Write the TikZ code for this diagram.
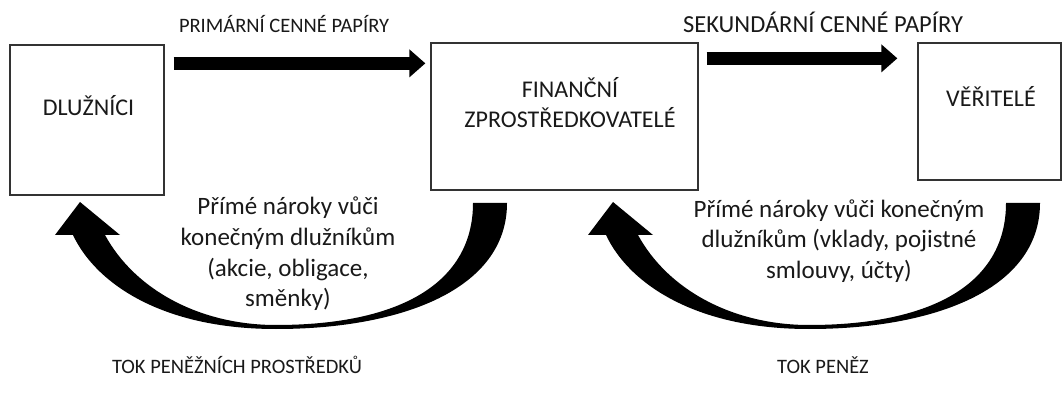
\documentclass[tikz,border=0pt]{standalone}
\usepackage{fontspec}
\setmainfont{Carlito}
\usetikzlibrary{arrows.meta,positioning,calc}

\tikzset{
  box/.style={draw=black!80,line width=1.3pt,rectangle,inner sep=0pt},
  lbl/.style={text=black!90,font=\fontsize{20.5}{30.5}\selectfont,align=center,inner sep=0pt},
  boxlbl/.style={lbl,font=\fontsize{24}{30}\selectfont},
  claimlbl/.style={lbl,font=\fontsize{25}{30.7}\selectfont},
  flow/.style={line width=13pt,-{Triangle[length=16pt,width=27pt]}},
  claim/.style={fill=black,draw=none},
}

\begin{document}
\begin{tikzpicture}[x=1pt,y=-1pt]
\useasboundingbox (0,0) rectangle (1062,403);

% boxes
\node[box,minimum width=154pt,minimum height=150pt] (dluz) at (87,120) {};
\node[box,minimum width=267pt,minimum height=147pt] (fin) at (564.5,116.5) {};
\node[box,minimum width=143pt,minimum height=137pt] (ver) at (989.5,111.5) {};

\node[boxlbl,anchor=base] (dluzT) at (88.5,116) {DLUŽNÍCI};
\node[boxlbl] (finT) at (570,103) {FINANČNÍ\\ZPROSTŘEDKOVATELÉ};
\node[boxlbl,anchor=base] (verT) at (991,107) {VĚŘITELÉ};

% securities
\node[lbl,anchor=base] (prim) at (284,33) {PRIMÁRNÍ CENNÉ PAPÍRY};
\node[lbl,anchor=base,font=\fontsize{24.5}{30}\selectfont] (sek) at (823,33) {SEKUNDÁRNÍ CENNÉ PAPÍRY};

\draw[flow] ([xshift=9pt,yshift=-19pt]dluz.north east) coordinate (a1) -- ([xshift=-5pt]a1 -| fin.west);
\draw[flow] ([xshift=8pt,yshift=-16pt]fin.north east) coordinate (a2) -- ([xshift=-20pt]a2 -| ver.west);

% claims
\fill[claim] (507,203) .. controls (507,290) and (400,329) .. (276,329)
  .. controls (160,329) and (95,282) .. (73,235)
  -- (55,235) -- (80,202) -- (120,235) -- (105,235)
  .. controls (135,290) and (200,325) .. (276,325)
  .. controls (400,325) and (473,283) .. (473,203) -- cycle;
\begin{scope}[xshift=533pt]
\fill[claim] (507,203) .. controls (507,290) and (400,329) .. (276,329)
  .. controls (160,329) and (95,282) .. (73,235)
  -- (55,235) -- (80,202) -- (120,235) -- (105,235)
  .. controls (135,290) and (200,325) .. (276,325)
  .. controls (400,325) and (473,283) .. (473,203) -- cycle;
\end{scope}

\node[claimlbl] (nar1) at (288,254) {Přímé nároky vůči\\konečným dlužníkům\\(akcie, obligace,\\směnky)};
\node[claimlbl] (nar2) at (839,241) {Přímé nároky vůči konečným\\dlužníkům (vklady, pojistné\\smlouvy, účty)};

% flows
\node[lbl,anchor=base] (tok1) at (237,373) {TOK PENĚŽNÍCH PROSTŘEDKŮ};
\node[lbl,anchor=base] (tok2) at (823,373) {TOK PENĚZ};
\end{tikzpicture}
\end{document}
